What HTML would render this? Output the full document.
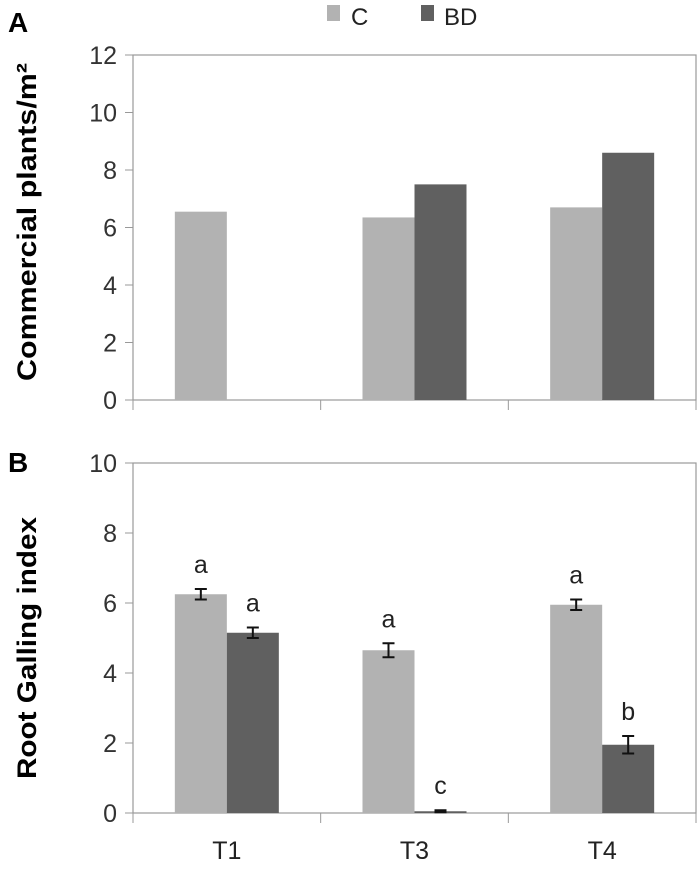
<!DOCTYPE html>
<html><head><meta charset="utf-8"><style>
body{margin:0;background:#fff;}
svg{display:block;font-family:"Liberation Sans",sans-serif;}
</style></head><body>
<svg id="chart" width="698" height="873">
<text x="8" y="32" font-size="28" font-weight="bold">A</text>
<text x="8" y="472" font-size="28" font-weight="bold">B</text>
<g>
<rect x="327" y="5" width="13" height="16" fill="#b2b2b2"/>
<text x="351" y="25" font-size="24" fill="#222">C</text>
<rect x="421" y="5" width="13" height="16" fill="#606060"/>
<text x="444" y="25" font-size="24" fill="#222">BD</text>
</g>
<text transform="translate(36,222) rotate(-90)" text-anchor="middle" font-size="27" font-weight="bold" textLength="318" lengthAdjust="spacingAndGlyphs">Commercial plants/m²</text>
<text transform="translate(36,648) rotate(-90)" text-anchor="middle" font-size="27" font-weight="bold" textLength="262" lengthAdjust="spacingAndGlyphs">Root Galling index</text>
</svg>
<script>
const categories = ["T1","T3","T4"];
const aC = [6.55, 6.35, 6.7];
const aBD = [0, 7.5, 8.6];
const aTicks = [0,2,4,6,8,10,12];
const bC = [6.25, 4.65, 5.95];
const bBD = [5.15, 0.05, 1.95];
const bCerr = [0.15, 0.2, 0.15];
const bBDerr = [0.15, 0.03, 0.25];
const bCLetters = ["a","a","a"];
const bBDLetters = ["a","c","b"];
const bTicks = [0,2,4,6,8,10];

const svg = document.getElementById('chart');
const NS = 'http://www.w3.org/2000/svg';
function mk(tag, attrs){const e=document.createElementNS(NS,tag);for(const k in attrs)e.setAttribute(k,attrs[k]);svg.appendChild(e);return e;}
const L=133, R=696, gw=(R-L)/categories.length, bw=52;
function xC(i){return L+gw*i+gw/2-bw;}
function xBD(i){return L+gw*i+gw/2;}

function panel(key, top, bottom, max, ticks, cVals, bdVals, cErr, bdErr, cLet, bdLet, showCats){
  const y = v => bottom - (v/max)*(bottom-top);
  const f = mk('rect',{x:L,y:top,width:R-L,height:bottom-top,fill:'none',stroke:'#999','stroke-width':1.2});
  
  
  ticks.forEach(t=>{
    const tl = mk('line',{x1:L-8,x2:L,y1:y(t),y2:y(t),stroke:'#999'});
    
    
    const tx = mk('text',{x:L-16,y:y(t)+9,'text-anchor':'end','font-size':25,fill:'#333'});
    tx.textContent=t;
    
    
  });
  for(let i=0;i<=categories.length;i++){
    const xl=L+gw*i;
    const tl = mk('line',{x1:xl,x2:xl,y1:bottom,y2:bottom+10,stroke:'#999'});
    
    
  }
  categories.forEach((c,i)=>{
    const b1 = mk('rect',{x:xC(i),y:y(cVals[i]),width:bw,height:bottom-y(cVals[i]),fill:'#b2b2b2'});
    
    
    const b2 = mk('rect',{x:xBD(i),y:y(bdVals[i]),width:bw,height:bottom-y(bdVals[i]),fill:'#606060'});
    
    
    if(cErr){
      [[xC(i),cVals[i],cErr[i],cLet[i],'c'],[xBD(i),bdVals[i],bdErr[i],bdLet[i],'bd']].forEach(([x0,v,e,lt,s])=>{
        const cx=x0+bw/2;
        const eb = mk('path',{d:`M${cx},${y(v+e)}V${y(v-e)}M${cx-6},${y(v+e)}H${cx+6}M${cx-6},${y(v-e)}H${cx+6}`,stroke:'#111','stroke-width':2,fill:'none'});
        
        
        const lx = mk('text',{x:cx,y:y(v+e)-16,'text-anchor':'middle','font-size':25,fill:'#222'});
        lx.textContent=lt;
        
        
      });
    }
    if(showCats){
      const cl = mk('text',{x:L+gw*i+gw/2,y:bottom+46,'text-anchor':'middle','font-size':25,fill:'#222'});
      cl.textContent=c;
      
      
    }
  });
}
panel('a', 55, 400, 12, aTicks, aC, aBD, null, null, null, null, false);
panel('b', 463, 813, 10, bTicks, bC, bBD, bCerr, bBDerr, bCLetters, bBDLetters, true);
</script>
</body></html>
